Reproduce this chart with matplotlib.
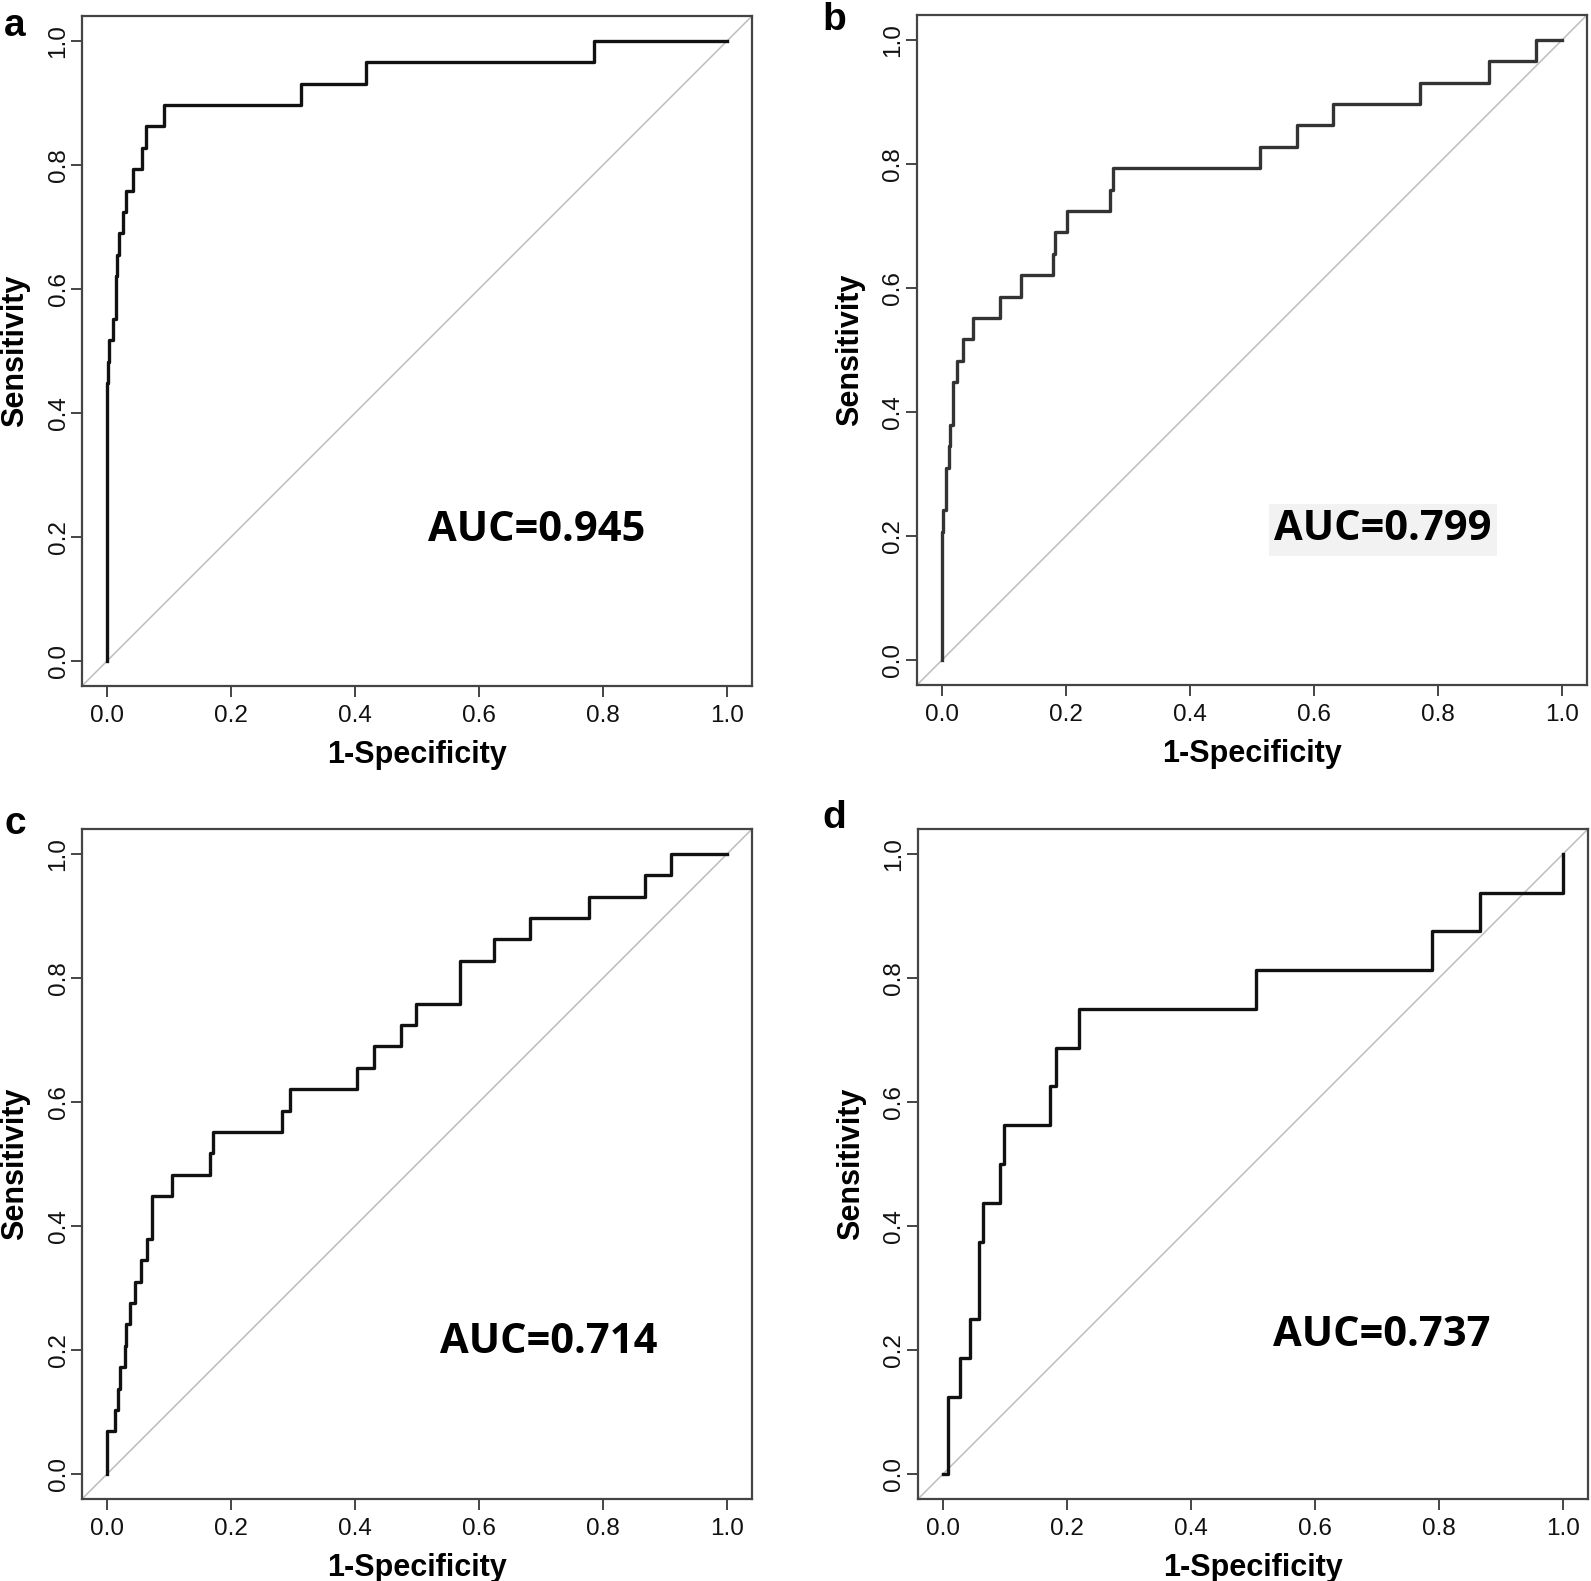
import matplotlib
matplotlib.use("Agg")
import matplotlib.pyplot as plt
import numpy as np

plt.rcParams['font.family'] = ['Liberation Sans', 'DejaVu Sans']

# ROC step vertices (1-specificity, true positive count)
fpr_a = [0, 0, 0.001, 0.002, 0.004, 0.010, 0.014, 0.017, 0.020, 0.026,
         0.031, 0.042, 0.056, 0.063, 0.092, 0.313, 0.417, 0.786, 1.0]
tp_a = [0, 12, 13, 14, 15, 16, 18, 19, 20, 21,
        22, 23, 24, 25, 26, 27, 28, 29, 29]
n_a = 29

fpr_b = [0, 0, 0.0025, 0.006, 0.011, 0.013, 0.0186, 0.024, 0.034, 0.050,
         0.093, 0.128, 0.180, 0.182, 0.201, 0.271, 0.276, 0.513, 0.572, 0.630,
         0.770, 0.8825, 0.957, 1.0]
tp_b = [0, 6, 7, 9, 10, 11, 13, 14, 15, 16,
        17, 18, 19, 20, 21, 22, 23, 24, 25, 26,
        27, 28, 29, 29]
n_b = 29

fpr_c = [0, 0.001, 0.0127, 0.018, 0.021, 0.029, 0.0305, 0.037, 0.046, 0.0557,
         0.065, 0.0735, 0.105, 0.166, 0.171, 0.282, 0.296, 0.404, 0.430, 0.4737,
         0.499, 0.5688, 0.624, 0.6817, 0.777, 0.867, 0.910, 1.0]
tp_c = [0, 2, 3, 4, 5, 6, 7, 8, 9, 10,
        11, 13, 14, 15, 16, 17, 18, 19, 20, 21,
        22, 24, 25, 26, 27, 28, 29, 29]
n_c = 29

fpr_d = [0, 0.0083, 0.028, 0.0443, 0.0578, 0.064, 0.0927, 0.098, 0.173, 0.183,
         0.219, 0.505, 0.7885, 0.866, 1.0]
tp_d = [0, 2, 3, 4, 6, 7, 8, 9, 10, 11, 12, 13, 14, 15, 16]
n_d = 16

panel_letters = ['a', 'b', 'c', 'd']
auc_labels = ['AUC=0.945', 'AUC=0.799', 'AUC=0.714', 'AUC=0.737']
ticks = [0.0, 0.2, 0.4, 0.6, 0.8, 1.0]
tick_labels = ['0.0', '0.2', '0.4', '0.6', '0.8', '1.0']

W, H = 1591, 1581
fig = plt.figure(figsize=(W / 100, H / 100), dpi=100)

# axes boxes in pixels: left, top
boxes = [(82, 16), (917, 15), (82, 829), (918, 829)]
size = 670
curves = [(fpr_a, tp_a, n_a), (fpr_b, tp_b, n_b), (fpr_c, tp_c, n_c), (fpr_d, tp_d, n_d)]
curve_colors = ['#111111', '#333333', '#111111', '#111111']
auc_pos = [(0.693, 0.211), (0.711, 0.21), (0.712, 0.2115), (0.708, 0.224)]
letter_pos = [(4, 8), (822, 2), (5, 806), (822, 800)]

for i in range(4):
    left, top = boxes[i]
    ax = fig.add_axes([left / W, 1 - (top + size) / H, size / W, size / H])
    fpr, tp, n = curves[i]
    tpr = np.array(tp) / n

    # chance line across the whole plot region
    ax.plot([-0.04, 1.04], [-0.04, 1.04], color='#bdbdbd', lw=1.1, zorder=1)
    ax.step(fpr, tpr, where='post', color=curve_colors[i], lw=2.4, zorder=2)

    ax.set_xlim(-0.04, 1.04)
    ax.set_ylim(-0.04, 1.04)
    ax.set_xticks(ticks)
    ax.set_xticklabels(tick_labels, fontsize=17.5, color='#111111')
    ax.set_yticks(ticks)
    ax.set_yticklabels(tick_labels, fontsize=17.5, color='#111111',
                       rotation=90, va='center')
    ax.tick_params(length=8, width=1.4, color='#444444')
    ax.tick_params(axis='x', pad=6)
    ax.tick_params(axis='y', pad=1)
    for sp in ax.spines.values():
        sp.set_linewidth(1.6)
        sp.set_color('#444444')

    ax.set_xlabel('1-Specificity', fontsize=22, fontweight='bold')
    ax.set_ylabel('Sensitivity', fontsize=22, fontweight='bold')
    ax.xaxis.set_label_coords(0.5, -0.08)
    ax.yaxis.set_label_coords(-0.077, 0.5)

    bbox = None
    if i == 1:
        bbox = dict(facecolor='#f2f2f2', edgecolor='none', pad=4)
    ax.text(auc_pos[i][0], auc_pos[i][1], auc_labels[i], fontsize=30,
            fontweight='bold', family=['Open Sans', 'DejaVu Sans'],
            ha='center', va='center', bbox=bbox)

    fig.text(letter_pos[i][0] / W, 1 - letter_pos[i][1] / H, panel_letters[i],
             fontsize=28, fontweight='bold', ha='left', va='top')

fig.savefig('out.png', dpi=100)
